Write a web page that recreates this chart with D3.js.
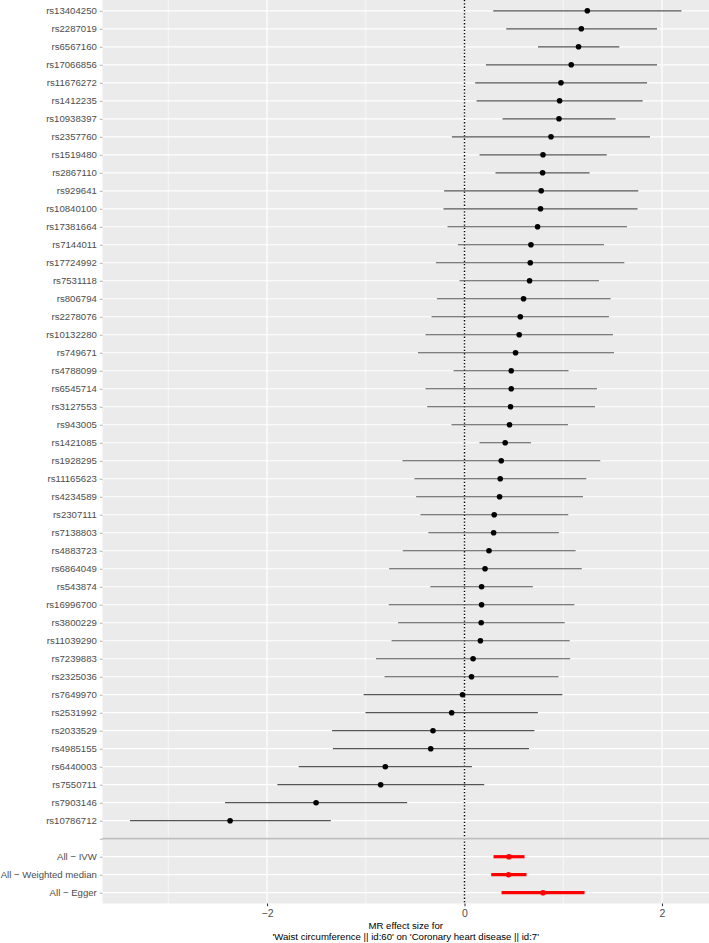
<!DOCTYPE html>
<html>
<head>
<meta charset="utf-8">
<script src="https://cdn.jsdelivr.net/npm/d3@7"></script>
<style>
  html, body { margin: 0; padding: 0; background: #fff; }
  svg { display: block; }
  text { font-family: "Liberation Sans", Arial, Helvetica, sans-serif; }
</style>
</head>
<body>
<svg id="chart" width="709" height="943"></svg>
<script>
// ---- data ----
const snps = ["rs13404250","rs2287019","rs6567160","rs17066856","rs11676272","rs1412235","rs10938397","rs2357760","rs1519480","rs2867110",
  "rs929641","rs10840100","rs17381664","rs7144011","rs17724992","rs7531118","rs806794","rs2278076","rs10132280","rs749671",
  "rs4788099","rs6545714","rs3127553","rs943005","rs1421085","rs1928295","rs11165623","rs4234589","rs2307111","rs7138803",
  "rs4883723","rs6864049","rs543874","rs16996700","rs3800229","rs11039290","rs7239883","rs2325036","rs7649970","rs2531992",
  "rs2033529","rs4985155","rs6440003","rs7550711","rs7903146","rs10786712"];
const snpB  = [1.244,1.183,1.155,1.081,0.977,0.963,0.957,0.876,0.795,0.791,
  0.777,0.770,0.740,0.673,0.666,0.659,0.598,0.565,0.554,0.517,
  0.473,0.473,0.466,0.456,0.412,0.372,0.362,0.355,0.301,0.295,
  0.248,0.208,0.173,0.173,0.169,0.161,0.087,0.071,-0.020,-0.130,
  -0.319,-0.342,-0.802,-0.849,-1.503,-2.374];
const snpLo = [0.291,0.423,0.744,0.217,0.108,0.122,0.385,-0.128,0.152,0.314,
  -0.206,-0.213,-0.172,-0.067,-0.290,-0.051,-0.280,-0.334,-0.395,-0.472,
  -0.111,-0.395,-0.378,-0.132,0.152,-0.628,-0.507,-0.490,-0.446,-0.366,
  -0.625,-0.763,-0.346,-0.767,-0.672,-0.739,-0.897,-0.810,-1.022,-1.003,
  -1.341,-1.333,-1.679,-1.895,-2.425,-3.387];
const snpUp = [2.197,1.950,1.568,1.950,1.849,1.804,1.530,1.879,1.441,1.267,
  1.760,1.753,1.646,1.413,1.619,1.362,1.480,1.463,1.504,1.514,
  1.054,1.342,1.322,1.048,0.673,1.375,1.233,1.200,1.051,0.956,
  1.125,1.188,0.692,1.113,1.015,1.066,1.070,0.952,0.991,0.743,
  0.708,0.653,0.075,0.200,-0.581,-1.354];

const methods = ["All \u2212 IVW","All \u2212 Weighted median","All \u2212 Egger"];
const methB  = [0.450,0.446,0.795];
const methLo = [0.294,0.271,0.375];
const methUp = [0.608,0.628,1.216];

const xTicks = [-2, 0, 2];
const xMinor = [-3, -1, 1];
const xTitle = ["MR effect size for", "'Waist circumference || id:60' on 'Coronary heart disease || id:7'"];

// ---- build rows ----
const rows = snps.map((s, i) => ({key: s, label: s, b: snpB[i], lo: snpLo[i], up: snpUp[i], tot: false}))
  .concat([{key: "__blank__", label: "", tot: null}])
  .concat(methods.map((m, i) => ({key: m, label: m, b: methB[i], lo: methLo[i], up: methUp[i], tot: true})));
const dataRows = rows.filter(r => r.tot !== null);

// ---- layout ----
const L = 102.5, R = 709, T = 0, B = 903.5;
const svg = d3.select("#chart");

const ext = [d3.min(dataRows, d => d.lo), d3.max(dataRows, d => d.up)];
const pad = (ext[1] - ext[0]) * 0.05;
const x = d3.scaleLinear().domain([ext[0] - pad, ext[1] + pad]).range([L, R]);
const y = d3.scalePoint().domain(rows.map(r => r.key)).range([T, B]).padding(0.6);

// panel
svg.append("rect").attr("x", L).attr("y", T).attr("width", R - L).attr("height", B - T).attr("fill", "#EBEBEB");

const grid = svg.append("g");
grid.selectAll(".minor").data(xMinor).join("line")
  .attr("x1", d => x(d)).attr("x2", d => x(d)).attr("y1", T).attr("y2", B)
  .attr("stroke", "#fff").attr("stroke-width", 0.6);
grid.selectAll(".major").data(xTicks).join("line")
  .attr("x1", d => x(d)).attr("x2", d => x(d)).attr("y1", T).attr("y2", B)
  .attr("stroke", "#fff").attr("stroke-width", 1.2);
grid.selectAll(".hmajor").data(rows).join("line")
  .attr("x1", L).attr("x2", R).attr("y1", d => y(d.key)).attr("y2", d => y(d.key))
  .attr("stroke", "#fff").attr("stroke-width", 1.2);

// dotted zero line
svg.append("line").attr("x1", x(0)).attr("x2", x(0)).attr("y1", T).attr("y2", B)
  .attr("stroke", "#000").attr("stroke-width", 1.4).attr("stroke-dasharray", "1.3,2.0");

// error bars
svg.append("g").selectAll("line").data(dataRows).join("line")
  .attr("x1", d => x(d.lo)).attr("x2", d => x(d.up))
  .attr("y1", d => y(d.key)).attr("y2", d => y(d.key))
  .attr("stroke", d => d.tot ? "#FF0000" : "#555555")
  .attr("stroke-width", d => d.tot ? 3.2 : 1.2);

// points
svg.append("g").selectAll("circle").data(dataRows).join("circle")
  .attr("cx", d => x(d.b)).attr("cy", d => y(d.key)).attr("r", 2.8)
  .attr("fill", d => d.tot ? "#FF0000" : "#000");

// separator line
svg.append("line").attr("x1", L).attr("x2", R)
  .attr("y1", y("__blank__")).attr("y2", y("__blank__"))
  .attr("stroke", "#BEBEBE").attr("stroke-width", 1.7);

// y axis
const yAxis = d3.axisLeft(y).tickSize(2.7).tickPadding(3).tickFormat(k => rows.find(r => r.key === k).label);
const gy = svg.append("g").attr("transform", `translate(${L},0)`).call(yAxis);
gy.select(".domain").remove();
gy.selectAll(".tick line").attr("stroke", "#333").attr("stroke-width", 0.4);
gy.selectAll(".tick text").attr("fill", "#4D4D4D").style("font-size", "9.6px")
  .attr("font-family", "Liberation Sans, Arial, sans-serif");

// x axis
const xAxis = d3.axisBottom(x).tickValues(xTicks).tickSize(2.7).tickPadding(3.5)
  .tickFormat(d => d < 0 ? "\u2212" + Math.abs(d) : String(d));
const gx = svg.append("g").attr("transform", `translate(0,${B})`).call(xAxis);
gx.select(".domain").remove();
gx.selectAll(".tick line").attr("stroke", "#333").attr("stroke-width", 1.1);
gx.selectAll(".tick text").attr("fill", "#4D4D4D").style("font-size", "10.5px")
  .attr("font-family", "Liberation Sans, Arial, sans-serif");

// x title
const cx = (L + R) / 2;
svg.append("text").attr("x", cx).attr("y", 929.3).attr("text-anchor", "middle")
  .style("font-size", "9.6px").attr("fill", "#000").text(xTitle[0]);
svg.append("text").attr("x", cx).attr("y", 939.6).attr("text-anchor", "middle")
  .style("font-size", "9.6px").attr("fill", "#000").text(xTitle[1]);
</script>
</body>
</html>
